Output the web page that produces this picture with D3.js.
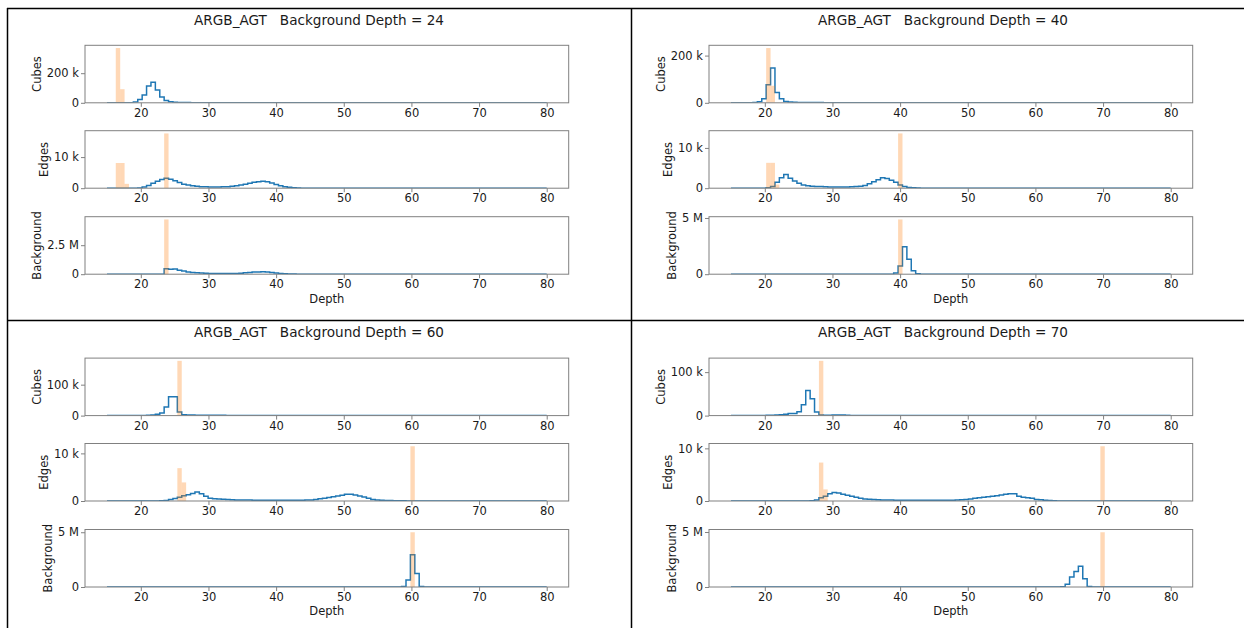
<!DOCTYPE html>
<html>
<head>
<meta charset="utf-8">
<script src="https://cdn.jsdelivr.net/npm/d3@7"></script>
<style>
  body { margin: 0; background: #fff; }
  svg text { font-family: "DejaVu Sans", sans-serif; fill: #1a1a1a; }
</style>
</head>
<body>
<svg id="chart" width="1244" height="628"></svg>
<script>
// histogram bins: 100 bins of width 0.65 from depth 15 to 80
const binStart = 15, binWidth = 0.65, binCount = 100;
const xTicks = [20, 30, 40, 50, 60, 70, 80];
const depths = [24, 40, 60, 70];
const rowNames = ["Cubes", "Edges", "Background"];
const K = 1e3, M = 1e6;

// sparse histogram: each segment is [first bin, counts...], every other bin is empty
function hist(unit, ...segments) {
  var out = new Array(binCount).fill(0);
  segments.forEach(function(s) {
    s[1].forEach(function(v, i) { out[s[0] + i] = v * unit; });
  });
  return out;
}

// ---- Background Depth = 24
const cubesBlue24 = hist(K, [4, [0.5, 1, 5, 22, 52, 114, 139, 87, 40, 16, 7, 3, 2, 1.5, 1.2, 1, 1, 0.8, 0.8, 0.6, 0.6, 0.5, 0.5, 0.4, 0.4, 0.3, 0.3, 0, 0.3, 0, 0.4, 0.3]]);
const cubesOrange24 = hist(K, [2, [370, 92]]);
const edgesBlue24 = hist(K, [7, [0.1, 0.4, 0.9, 1.6, 2.2, 2.8, 3.2, 2.9, 2.4, 1.8, 1.3, 1.0, 0.8, 0.6, 0.5, 0.45, 0.4, 0.4, 0.4, 0.45, 0.5, 0.6, 0.8, 1.0, 1.3, 1.6, 1.9, 2.1, 2.2, 2.1, 1.7, 1.2, 0.8, 0.5, 0.3, 0.15, 0.05]]);
const edgesOrange24 = hist(K, [2, [8.1, 8.1, 1.4]], [13, [17.6]]);
const bgBlue24 = hist(M, [13, [0.48, 0.42, 0.44, 0.35, 0.27, 0.2, 0.15, 0.12, 0.1, 0.08, 0.07, 0.06, 0.06, 0.06, 0.06, 0.06, 0.07, 0.09, 0.12, 0.15, 0.18, 0.2, 0.21, 0.19, 0.15, 0.1, 0.06, 0.03, 0.02, 0.01]]);
const bgOrange24 = hist(M, [13, [4.72]]);
const yTicks24 = [[0, 200 * K], [0, 10 * K], [0, 2.5 * M]];

// ---- Background Depth = 40
const cubesBlue40 = hist(K, [4, [0.5, 1, 4, 17, 76, 147, 44, 17, 6, 3, 2, 1.5, 1.2, 1, 1, 0.8, 0.8, 0.6, 0.5, 0.5, 0.4, 0.4, 0.3, 0.3, 0.3, 0.2]]);
const cubesOrange40 = hist(K, [8, [232, 72]]);
const edgesBlue40 = hist(K, [8, [0.1, 0.4, 1.5, 2.6, 3.4, 2.5, 1.8, 1.2, 0.8, 0.6, 0.5, 0.45, 0.4, 0.35, 0.3, 0.3, 0.3, 0.3, 0.3, 0.35, 0.4, 0.5, 0.7, 1.1, 1.6, 2.1, 2.6, 2.4, 2.0, 1.5, 0.8, 0.4, 0.2, 0.1, 0.05]]);
const edgesOrange40 = hist(K, [8, [6.3, 6.3, 0.9]], [38, [13.6]]);
const bgBlue40 = hist(M, [37, [0.1, 0.72, 2.44, 1.33, 0.3, 0.05]]);
const bgOrange40 = hist(M, [38, [4.87]]);
const yTicks40 = [[0, 200 * K], [0, 10 * K], [0, 5 * M]];

// ---- Background Depth = 60
const cubesBlue60 = hist(K, [8, [0.5, 1, 2, 4, 8, 28, 61, 61, 12, 3, 2, 2, 1.5, 1.5, 1, 1, 1, 0.8, 0.8, 0.6, 0.6, 0.5, 0.5, 0.5, 0.4, 0.4, 0.4, 0.3, 0.3, 0.3, 0.3, 0.3, 0.2, 0.2, 0.2, 0.2, 0.2, 0.2, 0.3, 0.2, 0.2, 0.2, 0.3, 0.3, 0.2, 0.2, 0.1]]);
const cubesOrange60 = hist(K, [16, [177]]);
const edgesBlue60 = hist(K, [12, [0.05, 0.1, 0.3, 0.5, 0.8, 1.1, 1.3, 1.6, 1.9, 1.5, 1.0, 0.6, 0.45, 0.4, 0.35, 0.3, 0.25, 0.2, 0.2, 0.2, 0.2, 0.15, 0.15, 0.15, 0.15, 0.15, 0.15, 0.15, 0.15, 0.15, 0.15, 0.15, 0.15, 0.2, 0.2, 0.3, 0.45, 0.6, 0.75, 0.9, 1.05, 1.2, 1.4, 1.4, 1.25, 1.05, 0.85, 0.6, 0.3, 0.2, 0.15, 0.1, 0.1, 0.05, 0.05, 0.05]]);
const edgesOrange60 = hist(K, [16, [6.9, 3.9]], [69, [11.5]]);
const bgBlue60 = hist(M, [67, [0.05, 0.65, 2.94, 1.23, 0.05]]);
const bgOrange60 = hist(M, [69, [5.0]]);
const yTicks60 = [[0, 100 * K], [0, 10 * K], [0, 5 * M]];

// ---- Background Depth = 70
const cubesBlue70 = hist(K, [6, [0.3, 0.5, 1, 1, 1.5, 2, 3, 5, 5, 9, 25, 58, 39, 8, 1.5, 0.8, 0.8, 1.2, 1.5, 1.2, 0.8, 0.5, 0.5, 0.5, 0.4, 0.4, 0.4, 0.4, 0.3, 0.3, 0.3, 0.3, 0.3, 0.3, 0.3, 0.3, 0.3, 0.3, 0.3, 0.3, 0.3, 0.2, 0.2, 0.2, 0.2, 0.2]]);
const cubesOrange70 = hist(K, [20, [126]]);
const edgesBlue70 = hist(K, [18, [0.05, 0.2, 0.6, 0.9, 1.4, 1.6, 1.5, 1.3, 1.1, 0.9, 0.7, 0.5, 0.4, 0.35, 0.3, 0.25, 0.2, 0.2, 0.2, 0.15, 0.15, 0.15, 0.15, 0.15, 0.15, 0.15, 0.15, 0.15, 0.15, 0.15, 0.15, 0.15, 0.15, 0.2, 0.25, 0.3, 0.4, 0.5, 0.6, 0.7, 0.8, 0.9, 1.0, 1.15, 1.3, 1.4, 1.4, 0.9, 0.7, 0.6, 0.5, 0.3, 0.25, 0.15, 0.1, 0.05]]);
const edgesOrange70 = hist(K, [20, [7.3, 2.2]], [84, [10.4]]);
const bgBlue70 = hist(M, [75, [0.03, 0.25, 0.9, 1.42, 1.88, 0.74, 0.05]]);
const bgOrange70 = hist(M, [84, [4.98]]);
const yTicks70 = [[0, 100 * K], [0, 10 * K], [0, 5 * M]];

const blueSets = [
  [cubesBlue24, edgesBlue24, bgBlue24],
  [cubesBlue40, edgesBlue40, bgBlue40],
  [cubesBlue60, edgesBlue60, bgBlue60],
  [cubesBlue70, edgesBlue70, bgBlue70]
];
const orangeSets = [
  [cubesOrange24, edgesOrange24, bgOrange24],
  [cubesOrange40, edgesOrange40, bgOrange40],
  [cubesOrange60, edgesOrange60, bgOrange60],
  [cubesOrange70, edgesOrange70, bgOrange70]
];
const tickSets = [yTicks24, yTicks40, yTicks60, yTicks70];

// layout of one figure (they are tiled 2 x 2 in a table)
var quadOffsets = [[0, 0], [624, 0], [0, 312.8], [624, 312.8]];
var axLeft = 85, axRight = 568.7, rowTops = [45.3, 130.7, 216.7], rowHeight = 57.5;
var binEdges = d3.range(binCount + 1).map(i => binStart + i * binWidth);

var svg = d3.select("#chart");
svg.append("rect").attr("width", 1244).attr("height", 628).attr("fill", "#fff");

var x = d3.scaleLinear().domain([11.75, 83.25]).range([axLeft, axRight]);

function eng(v) {
  if (v === 0) return "0";
  if (v >= 1e6) return d3.format("~g")(v / 1e6) + " M";
  return d3.format("~g")(v / 1e3) + " k";
}

var stepLine = d3.line().x(d => x(d[0])).y(d => d[1]);

depths.forEach(function(depth, q) {
  var fig = svg.append("g")
    .attr("transform", "translate(" + quadOffsets[q][0] + "," + quadOffsets[q][1] + ")");

  fig.append("text")
    .attr("x", 319).attr("y", 24.5)
    .attr("text-anchor", "middle")
    .style("font-size", "13.6px")
    .style("white-space", "pre")
    .text("ARGB_AGT   Background Depth = " + depth);

  rowNames.forEach(function(name, r) {
    var blue = blueSets[q][r], orange = orangeSets[q][r];
    var top = rowTops[r], bottom = top + rowHeight;
    var y = d3.scaleLinear()
      .domain([0, 1.05 * Math.max(d3.max(blue), d3.max(orange))])
      .range([bottom, top]);

    var clipId = "clip-" + q + "-" + r;
    fig.append("clipPath").attr("id", clipId)
      .append("rect")
      .attr("x", axLeft).attr("y", top)
      .attr("width", axRight - axLeft).attr("height", rowHeight);

    var plot = fig.append("g").attr("clip-path", "url(#" + clipId + ")");

    // step outline (histtype='step')
    var pts = [[binEdges[0], y(0)]];
    blue.forEach(function(v, i) {
      pts.push([binEdges[i], y(v)]);
      pts.push([binEdges[i + 1], y(v)]);
    });
    pts.push([binEdges[binCount], y(0)]);
    plot.append("path")
      .attr("d", stepLine(pts))
      .attr("fill", "none")
      .attr("stroke", "#1f77b4")
      .attr("stroke-width", 1.5);

    // background depth bars, semi transparent
    plot.selectAll(".bar")
      .data(orange.map((v, i) => ({v: v, i: i})).filter(d => d.v > 0))
      .enter().append("rect")
      .attr("x", d => x(binEdges[d.i]))
      .attr("width", d => x(binEdges[d.i + 1]) - x(binEdges[d.i]))
      .attr("y", d => y(d.v))
      .attr("height", d => y(0) - y(d.v))
      .attr("fill", "#ff7f0e")
      .attr("fill-opacity", 0.3);

    // spines
    fig.append("rect")
      .attr("x", axLeft).attr("y", top)
      .attr("width", axRight - axLeft).attr("height", rowHeight)
      .attr("fill", "none")
      .attr("stroke", "#808080")
      .attr("stroke-width", 1);

    var xg = fig.append("g")
      .attr("transform", "translate(0," + bottom + ")")
      .call(d3.axisBottom(x).tickValues(xTicks).tickSize(4).tickPadding(2).tickFormat(d3.format("d")));
    var yg = fig.append("g")
      .attr("transform", "translate(" + axLeft + ",0)")
      .call(d3.axisLeft(y).tickValues(tickSets[q][r]).tickSize(4).tickPadding(2).tickFormat(eng));
    [xg, yg].forEach(function(g) {
      g.select(".domain").remove();
      g.selectAll("line").attr("stroke", "#808080");
      g.selectAll("text").style("font-size", "11.5px").attr("fill", "#1a1a1a")
        .style("font-family", "'DejaVu Sans', sans-serif");
    });

    // y label sits left of the tick labels
    var bb = yg.node().getBBox();
    var lx = axLeft + bb.x - 6;
    fig.append("text")
      .attr("transform", "translate(" + lx + "," + (top + rowHeight / 2) + ") rotate(-90)")
      .attr("text-anchor", "middle")
      .style("font-size", "11.5px")
      .text(name);

    if (r === 2) {
      fig.append("text")
        .attr("x", (axLeft + axRight) / 2).attr("y", bottom + 28.5)
        .attr("text-anchor", "middle")
        .style("font-size", "11.5px")
        .text("Depth");
    }
  });
});

// table borders around the four figures
var grid = svg.append("g").attr("stroke", "#000").attr("stroke-width", 1.5);
grid.append("line").attr("x1", 7).attr("x2", 1244).attr("y1", 8.5).attr("y2", 8.5);
grid.append("line").attr("x1", 7).attr("x2", 1244).attr("y1", 320.5).attr("y2", 320.5);
grid.append("line").attr("x1", 7.5).attr("x2", 7.5).attr("y1", 8).attr("y2", 628);
grid.append("line").attr("x1", 631.5).attr("x2", 631.5).attr("y1", 8).attr("y2", 628);
</script>
</body>
</html>
